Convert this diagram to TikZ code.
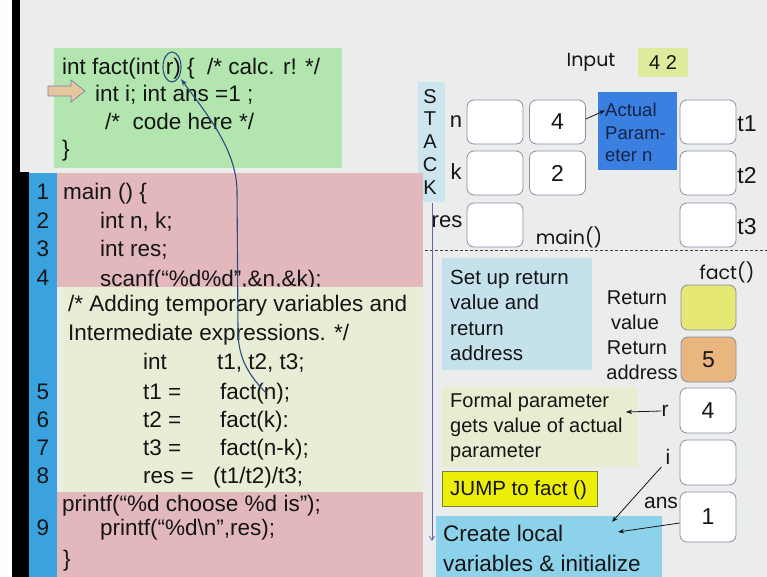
\documentclass[tikz,border=0pt]{standalone}
\usepackage{fontspec}
\setmainfont{Liberation Sans}
\newfontfamily\comicf{Poppins}
\usetikzlibrary{arrows.meta}
\definecolor{bgc}{HTML}{EBEDED}
\definecolor{greenc}{HTML}{B3E6AE}
\definecolor{pinkc}{HTML}{E2B8BD}
\definecolor{creamc}{HTML}{E8EDD5}
\definecolor{stripc}{HTML}{3AA2DF}
\definecolor{stackc}{HTML}{CDE5EF}
\definecolor{actc}{HTML}{3B80E0}
\definecolor{setupc}{HTML}{C5E2EC}
\definecolor{formalc}{HTML}{E9ECD0}
\definecolor{jumpc}{HTML}{EDED0A}
\definecolor{jumpd}{HTML}{857F3A}
\definecolor{createc}{HTML}{8CD2EA}
\definecolor{retvc}{HTML}{E5E974}
\definecolor{retac}{HTML}{E9B67F}
\definecolor{inputc}{HTML}{E0EA9C}
\definecolor{inkc}{HTML}{2A4C82}
\definecolor{boxc}{HTML}{8C8CA6}
\definecolor{arrowfill}{HTML}{E5C79E}
\definecolor{arrowdraw}{HTML}{8878B0}
\definecolor{actt}{HTML}{15244A}
\definecolor{vline}{HTML}{6A62A8}
\definecolor{txt}{HTML}{151515}
\tikzset{
  code/.style={anchor=base west, inner sep=0pt, text=txt, font=\fontsize{22.5}{27}\selectfont},
  lnum/.style={anchor=base, inner sep=0pt, text=txt, font=\fontsize{22.5}{27}\selectfont},
  lab/.style={inner sep=0pt, text=txt, font=\fontsize{22}{26}\selectfont},
  side/.style={anchor=base west, inner sep=0pt, text=txt, font=\fontsize{20.5}{24}\selectfont},
  sidec/.style={anchor=base, inner sep=0pt, text=txt, font=\fontsize{20}{24}\selectfont},
  comic/.style={inner sep=0pt, text=txt, font=\comicf\fontsize{19}{23}\selectfont},
  cell/.style={draw=boxc, fill=white, rounded corners=7pt, line width=0.8pt, inner sep=0pt,
    minimum width=56pt, minimum height=44pt, text=txt, font=\fontsize{23}{27}\selectfont},
  thinarrow/.style={draw=txt, line width=0.8pt, -{Stealth[length=6pt,width=4.5pt]}},
  ink/.style={draw=inkc, line width=1.1pt},
}
\begin{document}
\begin{tikzpicture}[x=1pt,y=-1pt]
\useasboundingbox (0,0) rectangle (767,577);
% background
\fill[bgc] (0,0) rectangle (767,577);
\fill[white!96!bgc] (0,0) rectangle (12,577);
\fill[black] (12,0) rectangle (20,577);
\fill[black] (20,172) rectangle (29,577);

% fact() code box
\fill[greenc] (54,48) rectangle (342,168);
\node[code] (h1) at (62,75) {int fact(int r) \{};
\node[code] (h1c) at (207,75) {/* calc. r! */};
\draw[fill=arrowfill, draw=arrowdraw, line width=0.7pt]
  (48,86) -- (71,86) -- (71,80) -- (85,91) -- (71,102) -- (71,96) -- (48,96) -- cycle;
\node[code] (h2) at (95,102) {int i; int ans =1 ;};
\node[code] (h3) at (105,130) {/*\ \ code here */};
\node[code] (h4) at (62,157) {\}};

% STACK strip
\fill[stackc] (418,82) rectangle (445,202);
\foreach \l/\yy [count=\i] in {S/97,T/119,A/142,C/165,K/188}
  \node[inner sep=0pt, text=txt, font=\fontsize{20}{24}\selectfont] (st\i) at (430,\yy) {\l};

% main code
\fill[stripc] (29,173) rectangle (57,577);
\fill[pinkc] (57,173) rectangle (423,287);
\node[code] (m1) at (63,200) {main () \{};
\node[code] (m2) at (100,228) {int n, k;};
\node[code] (m3) at (100,256) {int res;};
\node[code] (m4) at (100,286.5) {scanf(“\%d\%d”,\&n,\&k);};
\fill[creamc] (62,287) rectangle (423,492);
\fill[pinkc] (57,492) rectangle (423,577);
\node[code] (c1) at (68,311) {/* Adding temporary variables and};
\node[code] (c2) at (68,340) {Intermediate expressions. */};
\node[code] (c3a) at (143,369) {int};
\node[code] (c3b) at (217,369) {t1, t2, t3;};
\node[code] (m5a) at (143,399) {t1 =};
\node[code] (m5b) at (220,399) {fact(n);};
\node[code] (m6a) at (143,427) {t2 =};
\node[code] (m6b) at (220,427) {fact(k):};
\node[code] (m7a) at (143,455) {t3 =};
\node[code] (m7b) at (220,455) {fact(n-k);};
\node[code] (m8a) at (143,483) {res =};
\node[code] (m8b) at (213,483) {(t1/t2)/t3;};
\node[code] (p1) at (62,511) {printf(“\%d choose \%d is”);};
\node[code] (m9) at (100,535) {printf(“\%d\textbackslash n”,res);};
\node[code] (mend) at (63,566) {\}};
\foreach \n/\yy in {1/200,2/228,3/256,4/285,5/399,6/427,7/455,8/483,9/535}
  \node[lnum] (ln\n) at (43,\yy) {\n};

% ink annotation
\draw[ink] (172,67) ellipse [x radius=9pt, y radius=15pt];
\coordinate (cs) at (266,393);
\coordinate (ce) at (181,79);
\draw[ink, -{Stealth[length=7pt,width=5pt]}] (cs) .. controls (250,376) and (238,360) .. (238,330)
  -- (237,190) .. controls (236,148) and (205,112) .. (ce);

% Input
\node[comic] (inp) at (591,62) {Input};
\node[fill=inputc, minimum width=50pt, minimum height=29pt, inner sep=0pt, text=txt,
  font=\fontsize{20}{24}\selectfont] (inv) at (663,62.5) {4 2};

% main() stack frame
\node[lab] (ln) at (456,122) {n};
\node[lab] (lk) at (456,172) {k};
\node[lab] (lres) at (447,222) {res};
\node[cell] (b11) at (495,122) {};
\node[cell] (b12) at (557.5,122) {4};
\node[cell] (b21) at (495,173) {};
\node[cell] (b22) at (557.5,173) {2};
\node[cell] (b31) at (495,225) {};
\node[comic] (mainl) at (569,237) {main()};
\node[cell] (t1b) at (708,122) {};
\node[cell] (t2b) at (708,173) {};
\node[cell] (t3b) at (708,225) {};
\node[lab, font=\fontsize{23}{27}\selectfont] (lt1) at (747,124) {t1};
\node[lab, font=\fontsize{23}{27}\selectfont] (lt2) at (747,176) {t2};
\node[lab, font=\fontsize{23}{27}\selectfont] (lt3) at (747,227) {t3};
\node[fill=actc, minimum width=79pt, minimum height=78pt, inner sep=0pt] (act) at (637.5,131) {};
\node[anchor=base west, inner sep=0pt, text=actt, font=\fontsize{18.5}{22}\selectfont] (a1) at (605,117) {Actual};
\node[anchor=base west, inner sep=0pt, text=actt, font=\fontsize{18.5}{22}\selectfont] (a2) at (605,140) {Param-};
\node[anchor=base west, inner sep=0pt, text=actt, font=\fontsize{18.5}{22}\selectfont] (a3) at (605,162) {eter n};
\draw[thinarrow] (b12.east) ++(0,-3) coordinate (aa) -- (a1.west);

% divider and time line
\coordinate (dl) at (425,250);
\coordinate (dr) at (767,250);
\draw[draw=txt!80, dash pattern=on 3pt off 2pt, line width=0.9pt] (dl) -- (dr);
\coordinate (vt) at (432,203);
\coordinate (vb) at (432,541);
\draw[draw=vline, line width=0.8pt, -{Straight Barb[length=4pt,width=5pt]}] (vt) -- (vb);

% fact() frame
\node[comic] (factl) at (727,272) {fact()};
\fill[setupc] (442,258) rectangle (592,370);
\node[side] (s1) at (450,284) {Set up return};
\node[side] (s2) at (450,309) {value and};
\node[side] (s3) at (450,335) {return};
\node[side] (s4) at (450,360) {address};
\node[sidec] (rv1) at (637,304) {Return};
\node[sidec] (rv2) at (635,329) {value};
\node[sidec] (ra1) at (637,354) {Return};
\node[sidec] (ra2) at (642,379) {address};
\node[cell, fill=retvc, minimum width=55pt, minimum height=45pt] (rvb) at (708.5,307.5) {};
\node[cell, fill=retac, minimum width=55pt, minimum height=45pt] (rab) at (708.5,359.5) {5};
\fill[formalc] (442,387) rectangle (637,467);
\node[side, font=\fontsize{20}{24}\selectfont] (f1) at (450,407) {Formal parameter};
\node[side, font=\fontsize{20}{24}\selectfont] (f2) at (450,432) {gets value of actual};
\node[side, font=\fontsize{20}{24}\selectfont] (f3) at (450,457) {parameter};
\node[cell, minimum height=45pt] (rb) at (708,410.5) {4};
\node[lab, font=\fontsize{21}{25}\selectfont] (lr) at (665,411) {r};
\coordinate (rend) at (626,412);
\draw[thinarrow] (lr.west) -- (rend);
\node[cell, minimum height=45pt] (ib) at (708,462.5) {};
\node[lab, font=\fontsize{21}{25}\selectfont] (li) at (668,457) {i};
\node[cell, minimum height=50pt] (ansb) at (708,517) {1};
\node[lab, font=\fontsize{21}{25}\selectfont] (lans) at (661,503) {ans};
\node[draw=jumpd, fill=jumpc, line width=0.8pt, minimum width=155pt, minimum height=35pt,
  inner sep=0pt] (jump) at (519.5,488.5) {};
\node[side] (jt) at (450,495.5) {JUMP to fact ()};
\fill[createc] (436,516) rectangle (662,577);
\node[side, font=\fontsize{22.5}{27}\selectfont] (cr1) at (443,541) {Create local};
\node[side, font=\fontsize{22.5}{27}\selectfont] (cr2) at (443,571) {variables \& initialize};
\coordinate (ie) at (612,522);
\coordinate (ae) at (618,532);
\draw[thinarrow] (li.south west) ++(-4,2) -- (ie);
\draw[thinarrow] (ansb.west) ++(0,6) -- (ae);
\end{tikzpicture}
\end{document}
